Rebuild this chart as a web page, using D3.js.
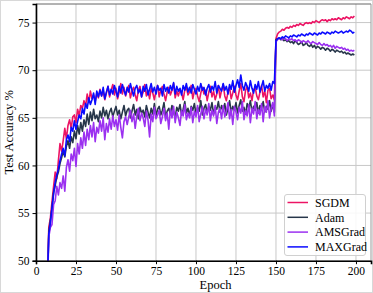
<!DOCTYPE html>
<html lang="en">
<head>
    <meta charset="utf-8" />
    <title>Test Accuracy vs Epoch</title>
    <script src="https://d3js.org/d3.v7.min.js"></script>
    <style>
        body { margin: 0; background: #fff; }
        svg { display: block; }
    </style>
</head>
<body>
<script>
    var w = 373;
    var h = 293;

    // first epoch stored in the arrays below, one value per epoch up to 199
    var startEpoch = 7;

    var sgdm = [
        47.5, 53.5, 54.5, 56.2, 57.8, 59.3, 58.6, 60.5, 62.3, 61.5,
        62.6, 63.9, 62.8, 64.2, 64.8, 63.9, 65.1, 65.3, 64.5, 65.9,
        65.2, 66.3, 66.0, 66.8, 66.2, 67.5, 66.6, 67.8, 67.0, 67.4,
        66.7, 67.6, 67.1, 68.0, 67.3, 67.8, 66.9, 67.6, 68.3, 67.2,
        67.9, 68.5, 67.4, 68.1, 67.0, 67.7, 68.6, 67.5, 68.2, 67.3,
        67.9, 68.4, 67.1, 67.8, 68.2, 67.4, 66.8, 67.9, 68.3, 67.2,
        67.7, 68.5, 67.3, 67.9, 67.0, 68.1, 67.6, 66.9, 67.8, 68.4,
        67.2, 67.9, 68.3, 67.5, 66.8, 67.7, 68.2, 67.4, 67.9, 68.6,
        67.1, 67.8, 67.3, 68.0, 67.6, 66.9, 67.9, 68.2, 67.4, 67.7,
        68.4, 67.0, 67.8, 68.1, 67.3, 66.7, 67.6, 68.2, 67.5, 67.9,
        66.8, 67.7, 68.3, 67.2, 67.8, 66.9, 67.5, 68.4, 67.1, 67.9,
        68.5, 67.3, 66.8, 67.7, 68.2, 67.0, 67.6, 68.3, 67.4, 66.9,
        67.8, 68.6, 67.2, 66.7, 67.9, 68.3, 67.1, 67.6, 66.8, 67.9,
        68.2, 67.3, 66.9, 67.7, 68.4, 67.2, 67.8, 66.6, 67.9, 68.1,
        67.0, 67.4, 66.9,
        73.3, 73.8, 74.0, 74.1, 74.3, 74.2, 74.4, 74.5, 74.4, 74.6,
        74.5, 74.7, 74.6, 74.8, 74.7, 74.9, 74.8, 74.7, 74.9, 75.0,
        74.9, 75.0, 74.9, 75.1, 75.0, 75.2, 75.1, 75.0, 75.2, 75.3,
        75.2, 75.3, 75.1, 75.3, 75.2, 75.4, 75.3, 75.4, 75.3, 75.5,
        75.4, 75.3, 75.5, 75.4, 75.6, 75.5, 75.4, 75.6, 75.5, 75.7
    ];

    var adam = [
        46.5, 53.0, 54.2, 55.5, 57.2, 57.9, 58.8, 59.3, 60.2, 60.8,
        61.5, 60.9, 62.0, 62.6, 61.8, 63.0, 62.4, 63.6, 62.8, 64.2,
        63.3, 64.5, 63.6, 64.8, 64.1, 65.4, 64.3, 65.6, 64.7, 65.9,
        64.9, 65.3, 64.6, 65.7, 65.0, 66.1, 65.2, 65.8, 64.9, 65.6,
        66.0, 65.1, 65.7, 66.2, 65.3, 65.8, 64.9, 65.6, 66.3, 65.2,
        65.8, 66.0, 65.0, 65.7, 66.4, 65.3, 65.9, 64.9, 66.1, 65.5,
        65.8, 65.1, 66.3, 65.6, 65.0, 66.0, 65.4, 66.5, 65.2, 65.9,
        66.2, 65.3, 65.8, 66.6, 65.1, 65.7, 66.0, 65.4, 66.3, 65.6,
        65.0, 66.1, 65.7, 66.4, 65.3, 65.9, 66.7, 65.5, 66.0, 65.2,
        66.2, 65.8, 66.5, 65.4, 66.1, 65.7, 66.8, 65.3, 66.0, 66.4,
        65.5, 66.2, 65.8, 66.6, 65.4, 66.1, 65.9, 66.7, 65.6, 66.3,
        65.7, 66.5, 65.3, 66.0, 66.8, 65.6, 66.2, 65.8, 66.6, 65.5,
        66.3, 66.9, 65.7, 66.1, 65.4, 66.5, 66.0, 66.8, 65.6, 66.2,
        65.8, 66.6, 65.5, 66.3, 66.0, 66.7, 65.6, 66.2, 65.9, 66.8,
        65.7, 66.4, 65.6,
        73.2, 73.3, 73.4, 73.2, 73.3, 73.1, 73.2, 73.0, 73.1, 72.9,
        73.0, 72.8, 73.1, 72.9, 72.7, 72.8, 73.0, 72.6, 72.7, 72.9,
        72.6, 72.5, 72.7, 72.4, 72.6, 72.3, 72.5, 72.4, 72.2, 72.4,
        72.3, 72.1, 72.3, 72.2, 72.0, 72.2, 72.1, 71.9, 72.1, 72.0,
        71.9, 72.0, 71.8, 71.9, 71.7, 71.8, 71.7, 71.6, 71.7, 71.6
    ];

    var amsgrad = [
        46.0, 52.5, 53.5, 53.8, 55.9, 56.3, 57.8, 56.9, 58.2, 57.6,
        58.9, 57.3, 59.8, 60.6, 59.4, 61.2, 60.5, 61.8, 59.9, 62.3,
        61.2, 62.9, 61.8, 63.5, 62.1, 63.8, 62.7, 64.2, 63.0, 64.5,
        62.5, 64.0, 63.4, 64.7, 63.6, 65.0, 62.7, 64.4, 63.5, 64.9,
        63.8, 65.2, 64.1, 64.8, 63.7, 65.3, 64.0, 62.9, 64.6, 65.1,
        64.3, 65.1, 65.8, 64.6, 65.4, 63.9, 65.2, 66.0, 64.7, 65.5,
        65.0, 64.1, 65.7, 64.8, 63.0, 65.4, 64.6, 66.1, 64.9, 65.3,
        65.8, 64.4, 65.1, 66.0, 64.7, 65.5, 63.8, 65.9, 65.0, 66.2,
        64.5, 65.6, 65.0, 64.2, 65.8, 65.2, 66.4, 64.8, 65.5, 65.0,
        66.1, 64.5, 65.7, 65.1, 66.3, 64.6, 65.4, 66.2, 64.9, 65.9,
        65.3, 66.5, 64.7, 65.8, 65.2, 66.3, 64.4, 65.6, 66.0, 64.9,
        66.3, 65.1, 65.7, 66.6, 64.9, 65.9, 64.3, 66.2, 65.6, 64.8,
        66.1, 65.5, 66.7, 64.8, 65.8, 65.2, 66.4, 64.5, 66.0, 65.4,
        66.7, 64.9, 65.9, 65.3, 66.5, 64.6, 66.2, 65.6, 66.8, 65.0,
        66.0, 66.6, 65.2,
        73.0, 73.2, 73.4, 73.3, 73.2, 73.4, 73.3, 73.1, 73.3, 73.2,
        73.3, 73.1, 73.2, 73.0, 73.2, 73.1, 72.9, 73.1, 73.0, 72.9,
        73.1, 72.9, 72.8, 73.0, 72.9, 72.8, 72.7, 72.9, 72.7, 72.6,
        72.8, 72.6, 72.7, 72.5, 72.6, 72.4, 72.6, 72.3, 72.5, 72.4,
        72.3, 72.4, 72.2, 72.3, 72.1, 72.2, 72.0, 72.1, 72.0, 72.1
    ];

    var maxgrad = [
        47.0, 52.8, 54.0, 55.6, 57.0, 58.2, 59.0, 59.6, 60.5, 61.2,
        61.8, 61.0, 62.7, 63.2, 62.5, 64.0, 63.6, 64.7, 63.8, 64.6,
        65.3, 64.9, 66.0, 65.4, 66.5, 66.0, 67.1, 66.4, 66.9, 67.6,
        66.4, 67.8, 67.2, 67.9, 67.3, 68.2, 67.0, 67.7, 68.3, 67.4,
        68.0, 67.5, 68.4, 67.8, 67.2, 68.3, 67.6, 68.5, 67.9, 67.4,
        68.2, 67.7, 68.6, 67.9, 67.3, 68.1, 68.4, 67.6, 68.0, 67.2,
        68.3, 67.8, 68.5, 67.4, 68.0, 68.6, 67.7, 68.2, 67.5, 68.4,
        67.9, 68.1, 67.3, 68.5, 67.8, 68.2, 67.6, 68.4, 67.9, 68.7,
        67.5, 68.3, 67.8, 68.1, 67.4, 68.4, 67.9, 68.6, 67.7, 68.2,
        67.6, 68.5, 68.0, 67.5, 68.3, 67.8, 68.6, 67.9, 68.2, 67.4,
        68.1, 68.5, 67.7, 68.3, 67.9, 68.8, 67.6, 68.4, 68.1, 67.8,
        68.6, 67.9, 68.3, 67.5, 68.5, 68.0, 68.9, 67.7, 68.4, 69.0,
        68.2, 69.5, 68.4, 67.9, 68.7, 68.3, 67.8, 68.9, 68.1, 67.6,
        68.5, 68.0, 68.8, 67.7, 68.3, 68.9, 67.8, 68.4, 68.1, 68.6,
        67.9, 68.8, 68.6,
        73.1, 73.3, 73.4, 73.3, 73.5, 73.4, 73.6, 73.5, 73.4, 73.6,
        73.5, 73.7, 73.6, 73.5, 73.7, 73.6, 73.8, 73.7, 73.6, 73.8,
        73.7, 73.9, 73.8, 73.7, 73.9, 73.8, 73.7, 73.9, 73.8, 74.0,
        73.9, 73.8, 74.0, 73.9, 73.8, 74.0, 73.9, 74.1, 74.0, 73.9,
        74.0, 74.1, 73.9, 74.0, 74.1, 74.0, 74.2, 74.1, 73.9, 74.0
    ];

    var names = ["SGDM", "Adam", "AMSGrad", "MAXGrad"];
    var colors = ["#ec1464", "#27364a", "#9b30f0", "#0a0aff"];
    var series = [sgdm, adam, amsgrad, maxgrad];

    var xTicks = [0, 25, 50, 75, 100, 125, 150, 175, 200];
    var yTicks = [50, 55, 60, 65, 70, 75];

    var plotL = 36, plotR = 371, plotT = 4, plotB = 260.7;

    var xScale = d3.scaleLinear()
        .domain([0, 209.4])
        .range([plotL, plotR]);

    var yScale = d3.scaleLinear()
        .domain([50, 76.95])
        .range([plotB, plotT]);

    var svg = d3.select("body")
        .append("svg")
        .attr("width", w)
        .attr("height", h)
        .style("font-family", "'Liberation Serif', 'DejaVu Serif', serif");

    // light frame round the whole figure
    svg.append("rect")
        .attr("x", 0.5).attr("y", 0.5)
        .attr("width", w - 1).attr("height", h - 1)
        .attr("fill", "#fff")
        .attr("stroke", "#d8d8d8");

    svg.append("clipPath").attr("id", "plot")
        .append("rect")
        .attr("x", plotL).attr("y", plotT)
        .attr("width", plotR - plotL).attr("height", plotB - plotT);

    // grid
    svg.append("g")
        .selectAll("line")
        .data(xTicks)
        .enter()
        .append("line")
        .attr("x1", function(d) { return xScale(d); })
        .attr("x2", function(d) { return xScale(d); })
        .attr("y1", plotT).attr("y2", plotB)
        .attr("stroke", "#c8c8c8")
        .attr("stroke-width", 1);

    svg.append("g")
        .selectAll("line")
        .data(yTicks)
        .enter()
        .append("line")
        .attr("x1", plotL).attr("x2", plotR)
        .attr("y1", function(d) { return yScale(d); })
        .attr("y2", function(d) { return yScale(d); })
        .attr("stroke", "#c8c8c8")
        .attr("stroke-width", 1);

    // lines
    var line = d3.line()
        .x(function(d, i) { return xScale(startEpoch + i); })
        .y(function(d) { return yScale(d); });

    svg.append("g")
        .attr("clip-path", "url(#plot)")
        .selectAll("path")
        .data(series)
        .enter()
        .append("path")
        .attr("d", line)
        .attr("fill", "none")
        .attr("stroke", function(d, i) { return colors[i]; })
        .attr("stroke-width", 1.6)
        .attr("stroke-linejoin", "round");

    // top and right frame
    svg.append("line")
        .attr("x1", plotL).attr("x2", plotR)
        .attr("y1", plotT).attr("y2", plotT)
        .attr("stroke", "#666").attr("stroke-width", 1);
    svg.append("line")
        .attr("x1", plotR).attr("x2", plotR)
        .attr("y1", plotT).attr("y2", plotB)
        .attr("stroke", "#999").attr("stroke-width", 1);

    // axes
    var xAxis = d3.axisBottom(xScale)
        .tickValues(xTicks)
        .tickSizeOuter(0)
        .tickSize(3.5)
        .tickPadding(3);

    var yAxis = d3.axisLeft(yScale)
        .tickValues(yTicks)
        .tickSizeOuter(0)
        .tickSize(3.5)
        .tickPadding(3);

    var gx = svg.append("g")
        .attr("transform", "translate(0," + plotB + ")")
        .call(xAxis);
    var gy = svg.append("g")
        .attr("transform", "translate(" + plotL + ",0)")
        .call(yAxis);

    [gx, gy].forEach(function(g) {
        g.select(".domain").attr("stroke", "#000").attr("stroke-width", 1.6);
        g.selectAll(".tick line").attr("stroke", "#000").attr("stroke-width", 1);
        g.selectAll(".tick text")
            .attr("fill", "#000")
            .style("font-family", "'Liberation Serif', serif")
            .style("font-size", "11.5px");
    });

    // axis labels
    svg.append("text")
        .text("Epoch")
        .attr("x", (plotL + plotR) / 2 + 12)
        .attr("y", 289)
        .attr("text-anchor", "middle")
        .attr("font-size", "12.5px")
        .attr("fill", "#000");

    svg.append("text")
        .text("Test Accuracy %")
        .attr("transform", "translate(13," + ((plotT + plotB) / 2) + ") rotate(-90)")
        .attr("text-anchor", "middle")
        .attr("font-size", "12.5px")
        .attr("fill", "#000");

    // legend
    var legend = svg.append("g").attr("transform", "translate(284,194)");
    legend.append("rect")
        .attr("x", 0.5).attr("y", 0.5)
        .attr("width", 81).attr("height", 61)
        .attr("rx", 2.5)
        .attr("fill", "#fff")
        .attr("fill-opacity", 0.85)
        .attr("stroke", "#d0d0d0");

    var items = legend.selectAll("g.item")
        .data(names)
        .enter()
        .append("g")
        .attr("class", "item")
        .attr("transform", function(d, i) { return "translate(0," + (8.5 + i * 14.8) + ")"; });

    items.append("line")
        .attr("x1", 3.5).attr("x2", 24)
        .attr("y1", 0).attr("y2", 0)
        .attr("stroke", function(d, i) { return colors[i]; })
        .attr("stroke-width", 1.5);

    items.append("text")
        .text(function(d) { return d; })
        .attr("x", 31)
        .attr("y", 4.2)
        .attr("font-size", "12px")
        .attr("fill", "#000");
</script>
</body>
</html>
